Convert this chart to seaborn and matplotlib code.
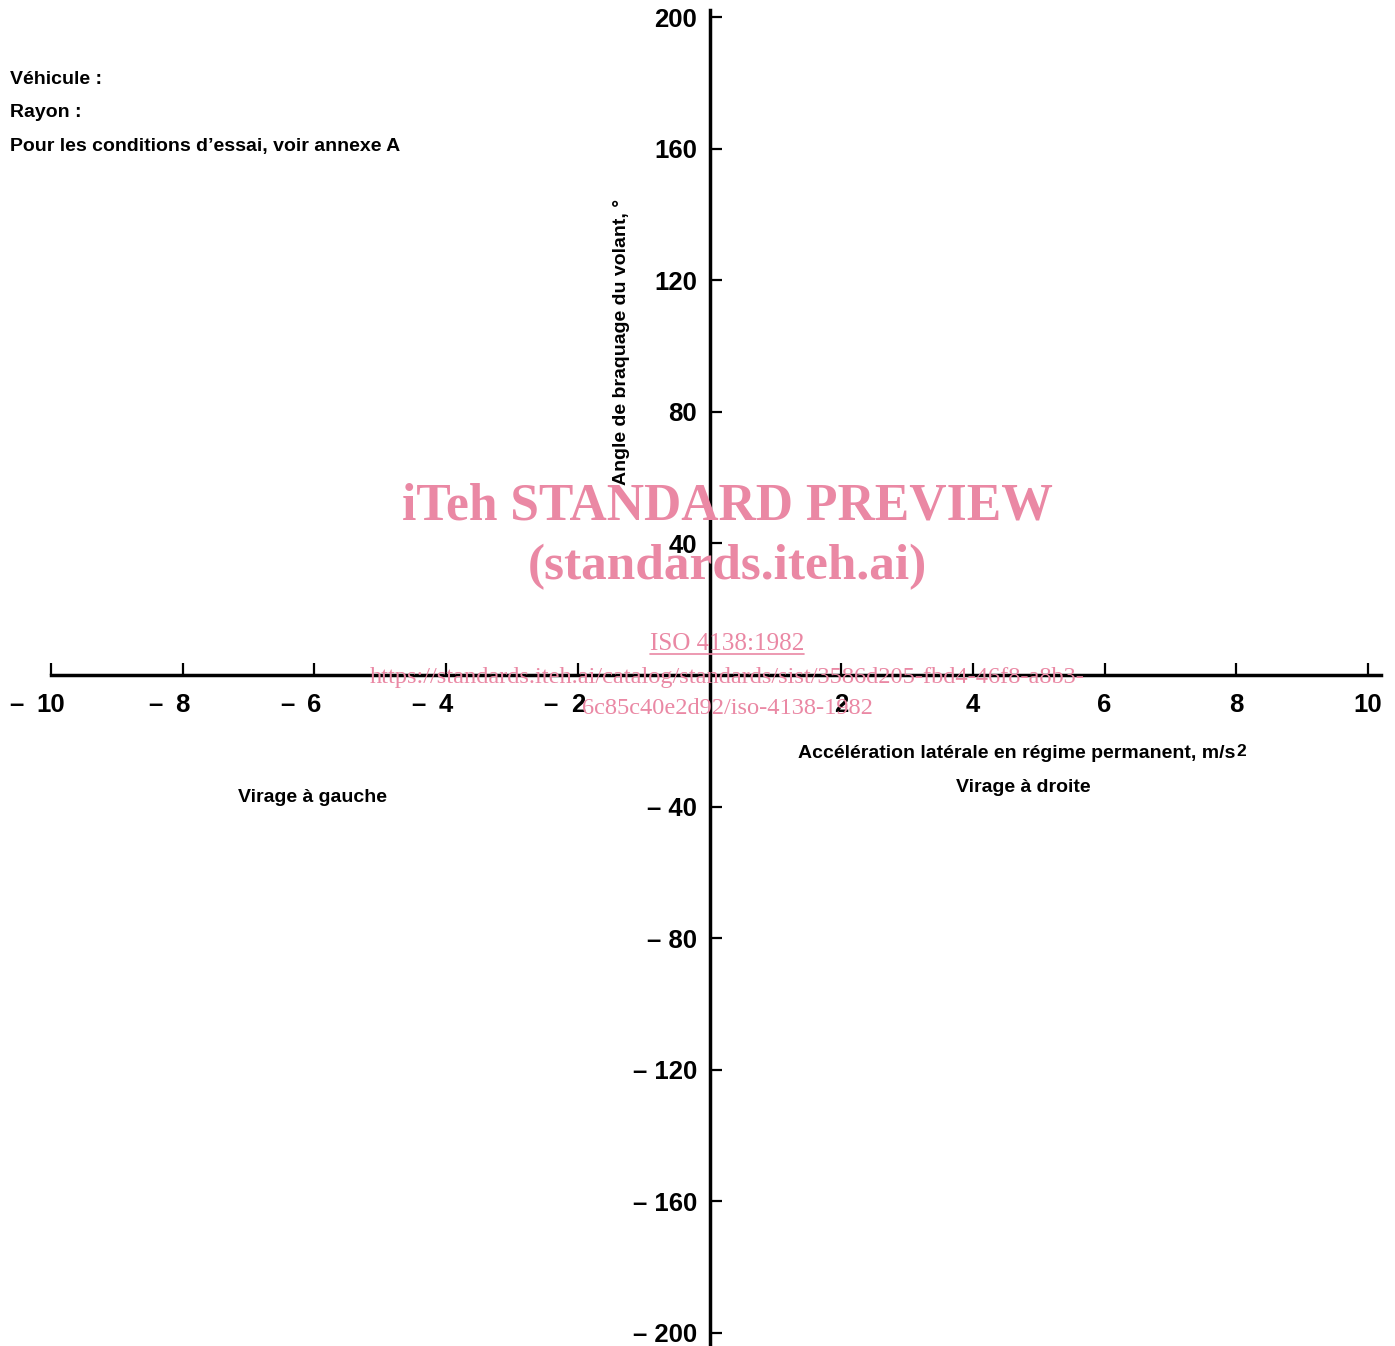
import matplotlib
matplotlib.use("Agg")
import matplotlib.pyplot as plt
import seaborn as sns

# Axis definitions for the steering-angle / lateral-acceleration chart
x_ticks = [-10, -8, -6, -4, -2, 2, 4, 6, 8, 10]
y_ticks = [-200, -160, -120, -80, -40, 40, 80, 120, 160, 200]
y_tick_labels = ["– 200", "– 160", "– 120", "– 80", "– 40", "40", "80", "120", "160", "200"]

x_label = "Accélération latérale en régime permanent, m/s"
x_label_exp = "2"
y_label = "Angle de braquage du volant, °"
left_turn = "Virage à gauche"
right_turn = "Virage à droite"
header_lines = ["Véhicule :", "Rayon :", "Pour les conditions d’essai, voir annexe A"]

wm_title = "iTeh STANDARD PREVIEW"
wm_site = "(standards.iteh.ai)"
wm_doc = "ISO 4138:1982"
wm_url1 = "https://standards.iteh.ai/catalog/standards/sist/3586d205-fbd4-46f8-a8b3-"
wm_url2 = "6c85c40e2d92/iso-4138-1982"

sns.set_theme(style="white")
plt.rcParams["font.family"] = ["Liberation Sans", "DejaVu Sans"]

W, H = 1395, 1346
fig = plt.figure(figsize=(W / 100, H / 100), dpi=100)
ax = fig.add_axes([0, 0, 1, 1])
ax.set_facecolor("white")

# scale: x -> 65.85 px per unit, origin at px 709.5; y -> 3.29 px per unit, origin at px 675
ax.set_xlim(-709.5 / 65.85, (W - 709.5) / 65.85)
ax.set_ylim(-(H - 675) / 3.29, 675 / 3.29)

sns.despine(ax=ax, top=True, right=True)
ax.spines["left"].set_position(("data", 0))
ax.spines["bottom"].set_position(("data", 0))
for s in ("left", "bottom"):
    ax.spines[s].set_linewidth(2.5)
    ax.spines[s].set_color("black")
    ax.spines[s].set_zorder(3)
ax.spines["bottom"].set_bounds(-10, 10.2)
ax.spines["left"].set_bounds(-204, 202)

ax.set_xticks(x_ticks)
ax.set_xticklabels([])
ax.set_yticks(y_ticks)
ax.set_yticklabels(y_tick_labels)
ax.tick_params(axis="x", bottom=True, direction="in", length=8.5, width=1.6,
               color="black", labelbottom=False)
ax.tick_params(axis="y", left=True, direction="in", length=8.5, width=1.6,
               color="black", labelsize=18.5, pad=9, labelcolor="black")
for lab in ax.get_yticklabels():
    lab.set_fontweight("bold")
ax.grid(False)

# x tick labels: number centred on the tick, dash set in front of negatives
for v in x_ticks:
    ax.annotate(str(abs(v)), xy=(v, 0), xytext=(0, -13), textcoords="offset points",
                ha="center", va="top", fontsize=18.5, fontweight="bold", color="black")
    if v < 0:
        off = 19.5 if abs(v) >= 10 else 14.5
        ax.annotate("–", xy=(v, 0), xytext=(-off, -13), textcoords="offset points",
                    ha="right", va="top", fontsize=18.5, fontweight="bold", color="black")


def px(x, y):
    return x / W, 1 - y / H


txt_kw = dict(fontsize=14.0, color="black", fontweight="bold")
for i, line in enumerate(header_lines):
    fig.text(*px(10, 79 + 33.5 * i), line, ha="left", va="center", **txt_kw)

xl = fig.text(*px(798, 754), x_label, ha="left", va="center", **txt_kw)
fig.text(*px(1023, 787), right_turn, ha="center", va="center", **txt_kw)
fig.text(*px(313, 797), left_turn, ha="center", va="center", **txt_kw)
fig.text(*px(622, 342), y_label, ha="center", va="center", rotation=90, **txt_kw)

# watermark
pink = "#EA88A4"
serif = ["Liberation Serif", "DejaVu Serif"]
fig.text(*px(727, 507), wm_title, ha="center", va="center", fontsize=37.2,
         fontweight="bold", family=serif, color=pink, zorder=1)
fig.text(*px(727, 567), wm_site, ha="center", va="center", fontsize=37,
         fontweight="bold", family=serif, color=pink, zorder=1)
doc = fig.text(*px(727, 644), wm_doc, ha="center", va="center", fontsize=18.1,
               family=serif, color=pink, zorder=1)
fig.text(*px(727, 677), wm_url1, ha="center", va="center", fontsize=17.6,
         family=serif, color=pink, zorder=1)
fig.text(*px(727, 708), wm_url2, ha="center", va="center", fontsize=17.6,
         family=serif, color=pink, zorder=1)

fig.canvas.draw()
inv = fig.transFigure.inverted()

# superscript exponent after the x label
xb = xl.get_window_extent().transformed(inv)
fig.text(xb.x1 + 1 / W, xb.y1 + 1 / H, x_label_exp, ha="left", va="top",
         fontsize=12.5, fontweight="bold", color="black")

# underline under the document reference
bb = doc.get_window_extent().transformed(inv)
fig.add_artist(plt.Line2D([bb.x0, bb.x1], [bb.y0 + 0.001, bb.y0 + 0.001],
                          transform=fig.transFigure, color=pink, linewidth=1.2))

fig.savefig("out.png", dpi=100, facecolor="white")
